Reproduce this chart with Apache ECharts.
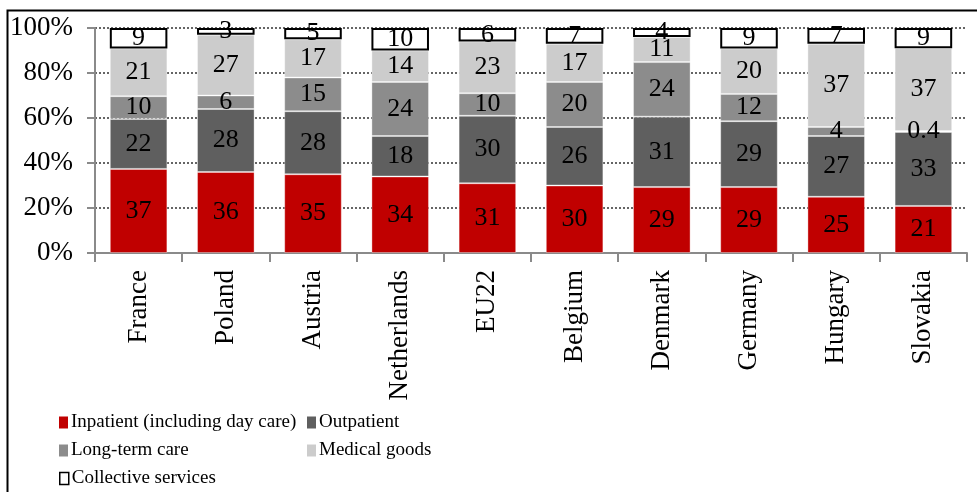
<!DOCTYPE html>
<html>
<head>
<meta charset="utf-8">
<script src="https://cdn.jsdelivr.net/npm/echarts@6/dist/echarts.min.js"></script>
<style>
  html, body { margin: 0; padding: 0; background: #fff; }
  #chart { width: 977px; height: 492px; }
</style>
</head>
<body>
<div id="chart"></div>
<script>
  // countries / aggregates on the x axis
  var categories = ['France', 'Poland', 'Austria', 'Netherlands', 'EU22', 'Belgium', 'Denmark', 'Germany', 'Hungary', 'Slovakia']

  // share of spending by function (%), as labelled
  var inpatient  = [37, 36, 35, 34, 31, 30, 29, 29, 25, 21]
  var outpatient = [22, 28, 28, 18, 30, 26, 31, 29, 27, 33]
  var longTerm   = [10, 6, 15, 24, 10, 20, 24, 12, 4, 0.4]
  var medGoods   = [21, 27, 17, 14, 23, 17, 11, 20, 37, 37]
  var collective = [9, 3, 5, 10, 6, 7, 4, 9, 7, 9]

  var seriesNames = ['Inpatient (including day care)', 'Outpatient', 'Long-term care', 'Medical goods', 'Collective services']
  var seriesData = [inpatient, outpatient, longTerm, medGoods, collective]
  var colors = ['#c00000', '#5f5f5f', '#8c8c8c', '#cccccc', '#ffffff']

  var FONT = '"Liberation Serif", "Times New Roman", serif'

  // 100% stacked: each column is scaled to its own total
  var totals = categories.map(function (c, i) {
    return seriesData.reduce(function (s, arr) { return s + arr[i] }, 0)
  })

  var series = seriesData.map(function (arr, k) {
    var last = k === seriesData.length - 1
    return {
      name: seriesNames[k],
      type: 'bar',
      stack: 'all',
      barWidth: '66%',
      data: arr.map(function (v, i) { return v / totals[i] * 100 }),
      itemStyle: last ? {
        color: '#ffffff', borderColor: '#000000', borderWidth: 2
      } : {
        color: colors[k], borderColor: 'rgba(255,255,255,0.35)', borderWidth: 1
      },
      label: {
        show: true,
        position: 'inside',
        color: '#000',
        fontFamily: FONT,
        fontSize: 26,
        formatter: function (p) { return String(arr[p.dataIndex]) }
      },
      emphasis: { disabled: true },
      z: last ? 3 : 2
    }
  })

  // legend laid out in two columns like the original
  var legendPos = [
    { left: 54, top: 408 },
    { left: 302, top: 408 },
    { left: 54, top: 436 },
    { left: 302, top: 436 },
    { left: 54, top: 464 }
  ]
  var legends = seriesNames.map(function (n, k) {
    return {
      data: [n],
      left: legendPos[k].left,
      top: legendPos[k].top,
      orient: 'horizontal',
      itemWidth: 9,
      itemHeight: 12,
      itemGap: 4,
      icon: 'rect',
      selectedMode: false,
      textStyle: { fontFamily: FONT, fontSize: 19, color: '#000', padding: [0, 0, 0, -2] },
      itemStyle: k === 4 ? { color: '#fff', borderColor: '#000', borderWidth: 1.5 } : { borderWidth: 0 }
    }
  })

  var chart = echarts.init(document.getElementById('chart'))
  chart.setOption({
    backgroundColor: '#ffffff',
    animation: false,
    color: colors,
    grid: { left: 95, right: 10, top: 28, bottom: 239, containLabel: false },
    legend: legends,
    xAxis: {
      type: 'category',
      data: categories,
      axisLine: { lineStyle: { color: '#8a8a8a', width: 2 } },
      axisTick: { show: true, length: 9, lineStyle: { color: '#8a8a8a', width: 2 } },
      axisLabel: { rotate: 90, margin: 17, color: '#000', fontFamily: FONT, fontSize: 27, interval: 0 }
    },
    yAxis: {
      type: 'value',
      min: 0,
      max: 100,
      interval: 20,
      axisLine: { show: true, lineStyle: { color: '#8a8a8a', width: 2 } },
      axisTick: { show: true, length: 8, lineStyle: { color: '#8a8a8a', width: 2 } },
      axisLabel: { margin: 22, color: '#000', fontFamily: FONT, fontSize: 27, formatter: '{value}%' },
      splitLine: { lineStyle: { color: '#333', type: [2, 2], width: 1.5 } }
    },
    series: series,
    graphic: [{
      type: 'rect',
      left: 5, top: 8,
      shape: { width: 1000, height: 600 },
      style: { fill: 'none', stroke: '#000', lineWidth: 2 },
      silent: true,
      z: 100
    }]
  })
</script>
</body>
</html>
